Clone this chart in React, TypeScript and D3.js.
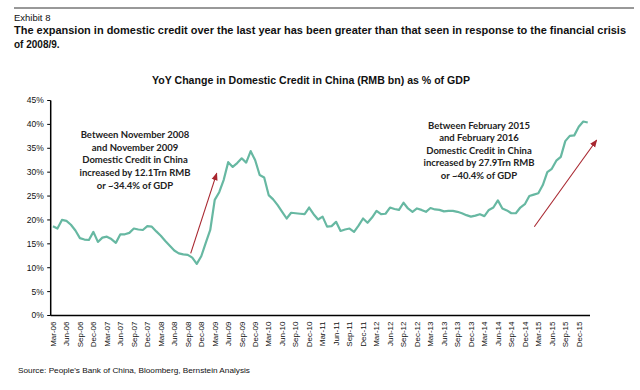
import React from "react";
import { scaleBand, scaleLinear, line, timeMonths, timeFormat } from "d3";

// monthly YoY change in domestic credit, % of GDP, Mar-06 .. Feb-16
const startMonth = new Date(2006, 2, 1);
const endMonth = new Date(2016, 2, 1);
const months = timeMonths(startMonth, endMonth).map(timeFormat("%b-%y"));

const creditPct = [
  18.7, 18.2, 20.0, 19.8, 19.0, 17.8, 16.2, 15.9, 15.8, 17.5,
  15.4, 16.3, 16.5, 16.0, 15.2, 17.0, 17.0, 17.3, 18.2, 18.0,
  17.9, 18.7, 18.6, 17.6, 16.7, 15.6, 14.6, 13.6, 13.0, 12.8,
  12.7, 12.1, 10.8, 12.4, 15.2, 17.9, 24.2, 25.8, 28.4, 32.1,
  31.1, 31.9, 32.9, 32.0, 34.4, 32.5, 29.4, 28.9, 25.2, 24.3,
  23.1, 21.7, 20.3, 21.5, 21.4, 21.3, 21.2, 22.6, 21.2, 20.1,
  20.7, 18.6, 18.7, 19.6, 17.7, 18.0, 18.2, 17.5, 18.8, 20.3,
  19.4, 20.5, 21.9, 21.2, 21.3, 22.6, 22.3, 22.1, 23.6, 22.4,
  21.7, 22.4, 22.1, 21.7, 22.5, 22.2, 22.1, 21.8, 21.9, 21.9,
  21.7, 21.4, 21.0, 20.7, 20.9, 21.2, 20.8, 22.1, 22.6, 24.1,
  22.4, 22.0, 21.4, 21.4, 22.6, 23.3, 25.0, 25.3, 25.6, 27.3,
  30.0, 30.7, 32.4, 33.2, 36.5, 37.6, 37.7, 39.5, 40.6, 40.4,
];

// every third month gets a label on the axis
const tickLabels = months.filter((_, i) => i % 3 === 0 && i < 118);
const yTicks = [0, 5, 10, 15, 20, 25, 30, 35, 40, 45];

const leftNote = [
  "Between November 2008",
  "and November 2009",
  "Domestic Credit in China",
  "increased by 12.1Trn RMB",
  "or ~34.4% of GDP",
];
const rightNote = [
  "Between February 2015",
  "and February 2016",
  "Domestic Credit in China",
  "increased by 27.9Trn RMB",
  "or ~40.4% of GDP",
];

const W = 640;
const H = 390;
const margin = { top: 100.5, right: 50, bottom: 74.5, left: 50.7 };

const App: React.FC = () => {
  const x = scaleBand<string>()
    .domain(months)
    .range([margin.left, W - margin.right])
    .padding(0);
  const y = scaleLinear()
    .domain([0, 45])
    .range([H - margin.bottom, margin.top]);

  const xc = (m: string) => (x(m) ?? 0) + x.bandwidth() / 2;

  const path = line<number>()
    .x((_, i) => xc(months[i]))
    .y((d) => y(d))(creditPct);

  const axisY = H - margin.bottom;
  const arrowColor = "#A8262F";

  return (
    <svg
      width={W}
      height={H}
      style={{ position: "absolute", left: 0, top: 0, display: "block", background: "#fff" }}
      fontFamily="'Liberation Sans', Arial, sans-serif"
    >
      <defs>
        <marker id="arrowHead" viewBox="0 0 10 10" refX="9" refY="5" markerWidth="7" markerHeight="7" orient="auto">
          <path d="M0,1 L10,5 L0,9 z" fill={arrowColor} />
        </marker>
      </defs>

      {/* header */}
      <line x1={14} x2={634} y1={8} y2={8} stroke="#333" strokeWidth={1} />
      <text x={14} y={21} fontSize={9.5} fill="#111">Exhibit 8</text>
      <text x={14} y={34} fontSize={10} fontWeight="bold" fill="#111" textLength={612} lengthAdjust="spacingAndGlyphs">
        The expansion in domestic credit over the last year has been greater than that seen in response to the financial crisis
      </text>
      <text x={14} y={48} fontSize={10} fontWeight="bold" fill="#111">of 2008/9.</text>

      <text x={311} y={83.5} fontSize={10.5} fontWeight="bold" textAnchor="middle" fill="#111" textLength={318} lengthAdjust="spacingAndGlyphs">
        YoY Change in Domestic Credit in China (RMB bn) as % of GDP
      </text>

      {/* y axis */}
      {yTicks.map((t) => (
        <g key={t}>
          <line x1={margin.left - 3.5} x2={margin.left} y1={y(t)} y2={y(t)} stroke="#000" strokeWidth={1} />
          <text x={margin.left - 7} y={y(t)} dy="0.35em" fontSize={8.5} textAnchor="end" fill="#111">
            {t}%
          </text>
        </g>
      ))}
      <line x1={margin.left} x2={margin.left} y1={margin.top} y2={axisY} stroke="#000" strokeWidth={1.5} />

      {/* x axis */}
      <line x1={margin.left} x2={W - margin.right} y1={axisY} y2={axisY} stroke="#000" strokeWidth={1.5} />
      {tickLabels.map((m) => (
        <text
          key={m}
          transform={`translate(${xc(m)},${axisY + 6}) rotate(-90)`}
          dy="0.35em"
          fontSize={8}
          textAnchor="end"
          fill="#111"
        >
          {m}
        </text>
      ))}

      {/* series */}
      <path d={path ?? ""} fill="none" stroke="#67B8A2" strokeWidth={2.2} strokeLinejoin="round" />

      {/* annotations */}
      <line x1={190.7} y1={253.3} x2={216.7} y2={173.3} stroke={arrowColor} strokeWidth={1.1} markerEnd="url(#arrowHead)" />
      <line x1={534.3} y1={226.7} x2={596.7} y2={140} stroke={arrowColor} strokeWidth={1.1} markerEnd="url(#arrowHead)" />

      <g fontFamily="Lato, 'Open Sans', sans-serif" fontWeight="bold" fontSize={9.5} fill="#222" textAnchor="middle">
        {leftNote.map((s, i) => (
          <text key={s} x={135} y={134.3 + i * 12.9} dy="0.35em">{s}</text>
        ))}
        {rightNote.map((s, i) => (
          <text key={s} x={479} y={125.7 + i * 12.4} dy="0.35em">{s}</text>
        ))}
      </g>

      {/* source */}
      <text x={18} y={373} fontSize={7.5} fill="#111" textLength={232} lengthAdjust="spacingAndGlyphs">
        Source: People's Bank of China, Bloomberg, Bernstein Analysis
      </text>
    </svg>
  );
};

export default App;
